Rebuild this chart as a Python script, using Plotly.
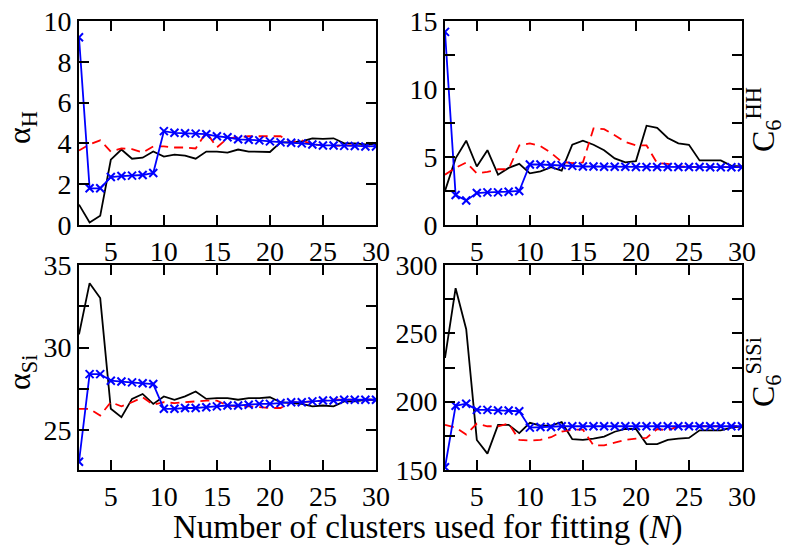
import plotly.graph_objects as go

N = list(range(2, 31))

# Panel 1: alpha_H
aH_black = [1.0, 0.12, 0.45, 3.2, 3.7, 3.25, 3.3, 3.6, 3.35, 3.45, 3.4, 3.25, 3.6, 3.6, 3.55,
            3.7, 3.6, 3.6, 3.58, 4.05, 4.05, 4.1, 4.25, 4.22, 4.25, 4.0, 4.0, 3.95, 3.95]
aH_red = [3.65, 3.95, 4.15, 3.6, 3.75, 3.72, 3.55, 3.85, 3.85, 3.8, 3.8, 3.75, 4.55, 3.8, 4.25,
          4.3, 4.35, 4.35, 4.35, 4.35, 4.05, 4.15, 3.95, 3.9, 3.88, 3.9, 3.9, 3.85, 3.85]
aH_blue = [9.2, 1.8, 1.8, 2.35, 2.4, 2.42, 2.45, 2.55, 4.6, 4.52, 4.5, 4.48, 4.45, 4.35, 4.3,
           4.2, 4.18, 4.15, 4.1, 4.05, 4.03, 4.0, 3.95, 3.9, 3.9, 3.88, 3.87, 3.85, 3.85]

# Panel 2: C6^HH
cHH_black = [2.5, 4.9, 6.2, 4.3, 5.5, 3.7, 4.2, 4.5, 3.8, 3.95, 4.25, 4.0, 5.9, 6.2, 5.9,
             5.5, 4.9, 4.6, 4.7, 7.3, 7.15, 6.4, 6.0, 5.9, 4.75, 4.75, 4.75, 4.35, 4.3]
cHH_red = [3.7, 4.2, 4.6, 3.8, 3.9, 4.1, 4.1, 5.85, 6.0, 5.8, 5.3, 4.65, 4.55, 4.6, 7.1,
           7.05, 6.6, 6.1, 5.85, 5.85, 4.55, 4.5, 4.3, 4.25, 4.25, 4.25, 4.25, 4.25, 4.25]
cHH_blue = [14.2, 2.2, 1.8, 2.35, 2.4, 2.4, 2.45, 2.5, 4.45, 4.45, 4.4, 4.4, 4.35, 4.3, 4.3,
            4.28, 4.28, 4.28, 4.27, 4.27, 4.27, 4.26, 4.26, 4.26, 4.26, 4.25, 4.25, 4.25, 4.25]

# Panel 3: alpha_Si
aSi_black = [30.8, 33.9, 33.0, 26.3, 25.8, 26.9, 27.2, 26.6, 27.05, 26.85, 27.05, 27.35, 26.9, 26.95, 26.95,
             26.85, 26.95, 26.95, 27.0, 26.7, 26.65, 26.6, 26.45, 26.5, 26.45, 26.75, 26.75, 26.85, 26.85]
aSi_red = [26.3, 26.3, 25.9, 26.7, 26.45, 26.7, 27.0, 26.55, 26.7, 26.65, 26.7, 26.75, 26.8, 26.8, 26.5,
           26.45, 26.45, 26.4, 26.35, 26.35, 26.7, 26.7, 26.75, 26.8, 26.85, 26.85, 26.85, 26.85, 26.85]
aSi_blue = [23.1, 28.4, 28.4, 28.0, 27.95, 27.9, 27.85, 27.8, 26.3, 26.3, 26.35, 26.35, 26.4, 26.45, 26.5,
            26.5, 26.55, 26.6, 26.6, 26.65, 26.7, 26.7, 26.75, 26.8, 26.8, 26.85, 26.85, 26.85, 26.85]

# Panel 4: C6^SiSi
cSi_black = [232, 283, 253, 172, 162, 183, 183, 177, 184.5, 182.5, 182.5, 185, 172.5, 172, 173,
             174.5, 178, 180, 180, 169, 169, 172, 173, 173.5, 179, 179, 179, 181, 182]
cSi_red = [183, 181, 176, 184, 182, 182, 184, 172, 171.5, 172, 174, 178, 179.5, 179.5, 168,
           168, 170, 172, 173, 173.5, 180, 179, 182, 182, 182, 182, 182, 182, 182]
cSi_blue = [152, 197, 198.5, 194, 194, 193.5, 193.5, 193, 181, 181.5, 181.5, 182, 182, 182, 182,
            182, 182, 182, 182, 182, 182, 182, 182, 182, 182, 182, 182, 182, 182]

x_ticks = [5, 10, 15, 20, 25, 30]

panels = [
    dict(black=aH_black, red=aH_red, blue=aH_blue, xa="x", ya="y",
         yr=[0, 10], yt=[0, 2, 4, 6, 8, 10], minor=None),
    dict(black=cHH_black, red=cHH_red, blue=cHH_blue, xa="x2", ya="y2",
         yr=[0, 15], yt=[0, 5, 10, 15], minor=2.5),
    dict(black=aSi_black, red=aSi_red, blue=aSi_blue, xa="x3", ya="y3",
         yr=[22.6, 35], yt=[25, 30, 35], minor=2.5),
    dict(black=cSi_black, red=cSi_red, blue=cSi_blue, xa="x4", ya="y4",
         yr=[150, 300], yt=[150, 200, 250, 300], minor=25),
]

W, H = 788, 545
frames = [(79, 376, 21, 225), (445, 742, 21, 225), (79, 376, 265, 470), (445, 742, 265, 470)]

FONT = "Liberation Serif"

fig = go.Figure()
fig.update_layout(template="none")

layout = dict(
    width=W, height=H, margin=dict(l=0, r=0, t=0, b=0, autoexpand=False),
    paper_bgcolor="white", plot_bgcolor="white", showlegend=False,
    font=dict(family=FONT, size=28, color="black"),
)

for i, p in enumerate(panels):
    fig.add_trace(go.Scatter(x=N, y=p["black"], mode="lines", xaxis=p["xa"], yaxis=p["ya"],
                             line=dict(color="black", width=1.8)))
    fig.add_trace(go.Scatter(x=N, y=p["red"], mode="lines", xaxis=p["xa"], yaxis=p["ya"],
                             line=dict(color="#ff0000", width=1.8, dash="9px,6px")))
    fig.add_trace(go.Scatter(x=N, y=p["blue"], mode="lines+markers", xaxis=p["xa"], yaxis=p["ya"],
                             line=dict(color="#0000ff", width=1.8),
                             marker=dict(symbol="x-thin", size=8, color="#0000ff",
                                         line=dict(color="#0000ff", width=2))))
    l, r, t, b = frames[i]
    xname = "xaxis" if i == 0 else f"xaxis{i+1}"
    yname = "yaxis" if i == 0 else f"yaxis{i+1}"
    common = dict(showline=True, mirror="ticks", linecolor="black", linewidth=2,
                  ticks="inside", ticklen=10, tickwidth=2, tickcolor="black",
                  showgrid=False, zeroline=False,
                  tickfont=dict(family=FONT, size=28, color="black"))
    layout[xname] = dict(domain=[l / W, r / W], range=[2, 30], tickvals=x_ticks,
                         anchor=p["ya"], ticklabelstandoff=0, **common)
    ydict = dict(domain=[1 - b / H, 1 - t / H], range=p["yr"], tickvals=p["yt"],
                 anchor=p["xa"], ticklabelstandoff=0, **common)
    if p["minor"] is not None:
        ydict["minor"] = dict(dtick=p["minor"], ticks="inside", ticklen=10, tickwidth=2,
                              tickcolor="black", showgrid=False)
    layout[yname] = ydict

fig.update_layout(**layout)

annotations = [
    dict(text="α<sub>H</sub>", x=21 / W, y=1 - 128 / H, textangle=-90, size=32),
    dict(text="α<sub>Si</sub>", x=21 / W, y=1 - 373 / H, textangle=-90, size=32),
    dict(text="C<sub>6</sub><sup>HH</sup>", x=763 / W, y=1 - 120 / H, textangle=-90, size=32),
    dict(text="C<sub>6</sub><sup>SiSi</sup>", x=763 / W, y=1 - 372 / H, textangle=-90, size=32),
    dict(text="Number of clusters used for fitting (<i>N</i>)", x=428 / W, y=1 - 527 / H,
         textangle=0, size=33),
]
for a in annotations:
    fig.add_annotation(text=a["text"], x=a["x"], y=a["y"], textangle=a["textangle"],
                       xref="paper", yref="paper", xanchor="center", yanchor="middle",
                       showarrow=False, font=dict(family=FONT, size=a["size"], color="black"))

fig.write_html("out.html")
